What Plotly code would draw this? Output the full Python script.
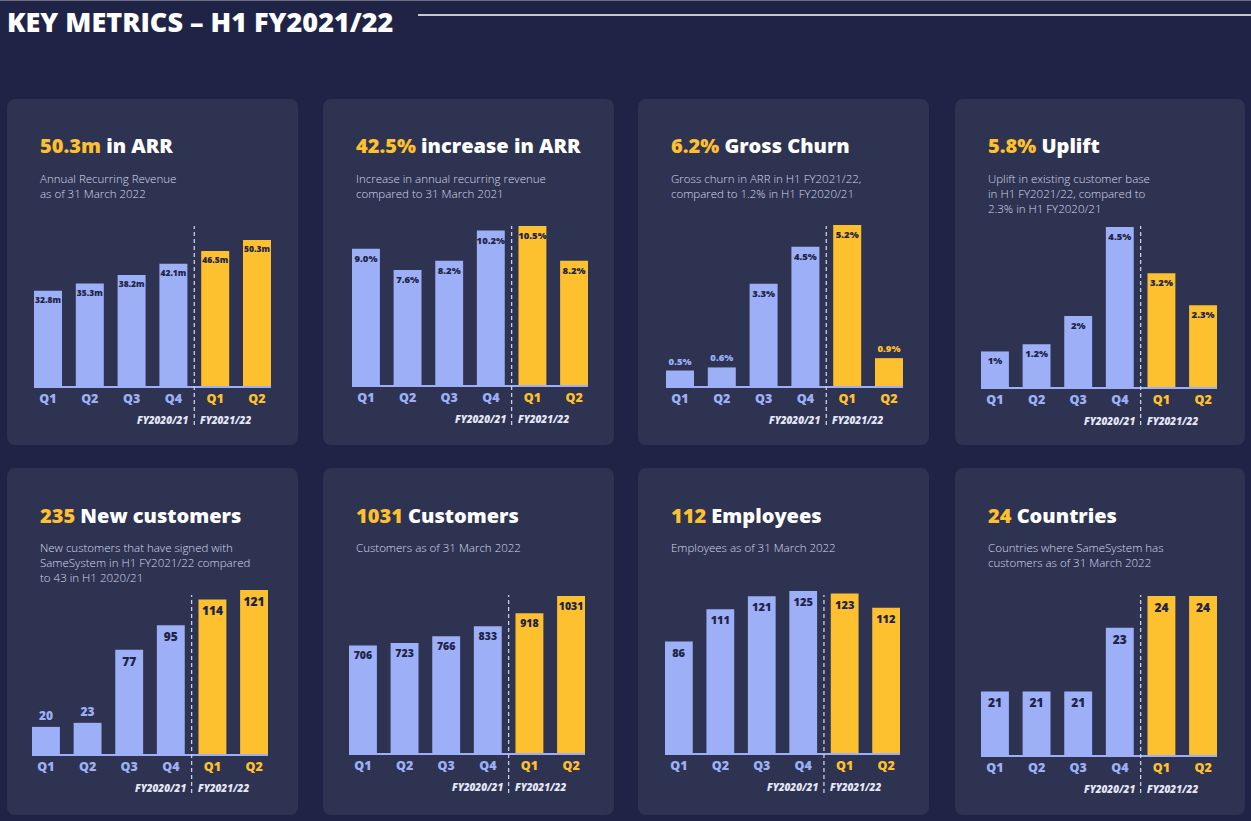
import plotly.graph_objects as go

W, H = 1251, 821

quarters = ["Q1", "Q2", "Q3", "Q4", "Q1", "Q2"]
fiscal_years = ["FY2020/21", "FY2021/22"]

arr = [32.8, 35.3, 38.2, 42.1, 46.5, 50.3]
arr_growth = [9.0, 7.6, 8.2, 10.2, 10.5, 8.2]
gross_churn = [0.5, 0.6, 3.3, 4.5, 5.2, 0.9]
uplift = [1, 1.2, 2, 4.5, 3.2, 2.3]
new_customers = [20, 23, 77, 95, 114, 121]
customers = [706, 723, 766, 833, 918, 1031]
employees = [86, 111, 121, 125, 123, 112]
countries = [21, 21, 21, 23, 24, 24]

headlines = ["50.3m", "42.5%", "6.2%", "5.8%", "235", "1031", "112", "24"]
titles = [" in ARR", " increase in ARR", " Gross Churn", " Uplift",
          " New customers", " Customers", " Employees", " Countries"]
subtitles = [
    "Annual Recurring Revenue<br>as of 31 March 2022",
    "Increase in annual recurring revenue<br>compared to 31 March 2021",
    "Gross churn in ARR in H1 FY2021/22,<br>compared to 1.2% in H1 FY2020/21",
    "Uplift in existing customer base<br>in H1 FY2021/22, compared to<br>2.3% in H1 FY2020/21",
    "New customers that have signed with<br>SameSystem in H1 FY2021/22 compared<br>to 43 in H1 2020/21",
    "Customers as of 31 March 2022",
    "Employees as of 31 March 2022",
    "Countries where SameSystem has<br>customers as of 31 March 2022",
]

BG = "#1f2446"
CARD = "#2e3352"
BLUE = "#9db0f7"
YELLOW = "#fdc02e"
DARK = "#1f2446"
FONT = "Open Sans"

# (values, label format, label size, y-axis floor, card box, plot box)
panels = [
    (arr, lambda v: f"{v:.1f}m", 8.5, 0, (7, 99, 298, 445), (34, 271, 240, 386)),
    (arr_growth, lambda v: f"{v:.1f}%", 9.5, 0, (323, 99, 614, 445), (352, 588, 226, 385)),
    (gross_churn, lambda v: f"{v:.1f}%", 9.5, 0, (638, 99, 929, 445), (666, 903, 225, 386)),
    (uplift, lambda v: f"{v:g}%", 9.5, 0, (955, 99, 1245, 445), (981, 1217, 227, 387)),
    (new_customers, str, 12, 0, (7, 468, 298, 815), (32, 268, 590, 754)),
    (customers, str, 10.5, 0, (323, 468, 614, 815), (349, 585, 596, 753)),
    (employees, str, 11, 0, (638, 468, 929, 815), (665, 900, 591, 753)),
    (countries, str, 12, 19, (955, 468, 1245, 815), (981, 1217, 596, 755)),
]


def px_x(x):
    return x / W


def px_y(y):
    return 1 - y / H


def rounded(x0, y0, x1, y1, r):
    X = lambda v: f"{px_x(v):.5f}"
    Y = lambda v: f"{px_y(v):.5f}"
    return (f"M{X(x0 + r)},{Y(y0)} L{X(x1 - r)},{Y(y0)} Q{X(x1)},{Y(y0)} {X(x1)},{Y(y0 + r)} "
            f"L{X(x1)},{Y(y1 - r)} Q{X(x1)},{Y(y1)} {X(x1 - r)},{Y(y1)} "
            f"L{X(x0 + r)},{Y(y1)} Q{X(x0)},{Y(y1)} {X(x0)},{Y(y1 - r)} "
            f"L{X(x0)},{Y(y0 + r)} Q{X(x0)},{Y(y0)} {X(x0 + r)},{Y(y0)} Z")


fig = go.Figure()
shapes = []
annotations = []
colors = [BLUE] * 4 + [YELLOW] * 2
tick_text = [f"<span style='color:{c}'>{q}</span>" for q, c in zip(quarters, colors)]

for i, (vals, fmt, tsize, floor, card, box) in enumerate(panels):
    n = i + 1
    xa, ya = ("x", "y") if n == 1 else (f"x{n}", f"y{n}")
    top = max(vals)
    inside = [(v - floor) / (top - floor) >= 0.2 for v in vals]
    fig.add_trace(go.Bar(
        x=list(range(6)), y=vals, xaxis=xa, yaxis=ya,
        marker=dict(color=colors, line_width=0),
        text=[fmt(v) for v in vals],
        textposition=["inside" if k else "outside" for k in inside],
        insidetextanchor="end", textangle=0, constraintext="none",
        textfont=dict(family=FONT, size=tsize, weight=800,
                      color=[DARK if k else c for k, c in zip(inside, colors)]),
        hoverinfo="skip", showlegend=False,
    ))
    x0, x1, ytop, ybase = box
    axn = "" if n == 1 else str(n)
    fig.layout[f"xaxis{axn}"] = dict(
        domain=[px_x(x0), px_x(x1)], anchor=ya, range=[-0.335, 5.335],
        tickvals=list(range(6)), ticktext=tick_text, ticks="",
        tickfont=dict(family=FONT, size=12.5, weight=800),
        showline=True, linecolor=BLUE, linewidth=1.5,
        showgrid=False, zeroline=False, fixedrange=True,
    )
    fig.layout[f"yaxis{axn}"] = dict(
        domain=[px_y(ybase), px_y(ytop)], anchor=xa, range=[floor, top],
        visible=False, fixedrange=True,
    )
    cx0, cy0, cx1, cy1 = card
    shapes.append(dict(type="path", path=rounded(cx0, cy0, cx1, cy1, 9), xref="paper",
                       yref="paper", fillcolor=CARD, line_width=0, layer="below"))
    dash_top = 226 if cy0 < 400 else 595
    dash_bot = 425 if cy0 < 400 else 793
    shapes.append(dict(type="line", xref=xa, yref="paper", x0=3.5, x1=3.5,
                       y0=px_y(dash_bot), y1=px_y(dash_top),
                       line=dict(color="#c9cde3", width=1.3, dash="4px,3px")))
    fy_y = px_y(ybase + 34)
    annotations.append(dict(xref=xa, yref="paper", x=3.5, y=fy_y, xanchor="right", xshift=-4,
                            yanchor="middle", text=f"<i>{fiscal_years[0]}</i>", showarrow=False,
                            font=dict(family=FONT, size=10, weight=800, color="#e4e7f6")))
    annotations.append(dict(xref=xa, yref="paper", x=3.5, y=fy_y, xanchor="left", xshift=4,
                            yanchor="middle", text=f"<i>{fiscal_years[1]}</i>", showarrow=False,
                            font=dict(family=FONT, size=10, weight=800, color="#e4e7f6")))
    tx = cx0 + 31
    ty = cy0 + 47
    annotations.append(dict(xref="paper", yref="paper", x=px_x(tx), y=px_y(ty),
                            xanchor="left", yanchor="middle", showarrow=False,
                            text=f"<span style='color:{YELLOW}'>{headlines[i]}</span>{titles[i]}",
                            font=dict(family=FONT, size=20, weight=800, color="#ffffff")))
    annotations.append(dict(xref="paper", yref="paper", x=px_x(tx), y=px_y(ty + 23),
                            xanchor="left", yanchor="top", showarrow=False, align="left",
                            text=subtitles[i],
                            font=dict(family=FONT, size=11.5, weight=300, color="#d6d9ea")))

# page header
annotations.append(dict(xref="paper", yref="paper", x=px_x(5), y=px_y(1),
                        xanchor="left", yanchor="top", showarrow=False,
                        text="KEY METRICS – H1 FY2021/22",
                        font=dict(family=FONT, size=27, weight=800, color="#ffffff")))
shapes.append(dict(type="line", xref="paper", yref="paper", x0=px_x(418), x1=1,
                   y0=px_y(15), y1=px_y(15), line=dict(color="#ffffff", width=1.5)))
shapes.append(dict(type="line", xref="paper", yref="paper", x0=0, x1=1,
                   y0=px_y(0.5), y1=px_y(0.5), line=dict(color="#6b6e80", width=1)))

fig.update_layout(
    width=W, height=H, margin=dict(l=0, r=0, t=0, b=0),
    paper_bgcolor=BG, plot_bgcolor="rgba(0,0,0,0)",
    bargap=0.33, shapes=shapes, annotations=annotations,
    uniformtext=dict(minsize=8, mode="show"),
    font=dict(family=FONT),
)

fig.write_html("out.html", config={"displayModeBar": False},
               post_script="document.body.style.margin='0';document.body.style.overflow='hidden';")
